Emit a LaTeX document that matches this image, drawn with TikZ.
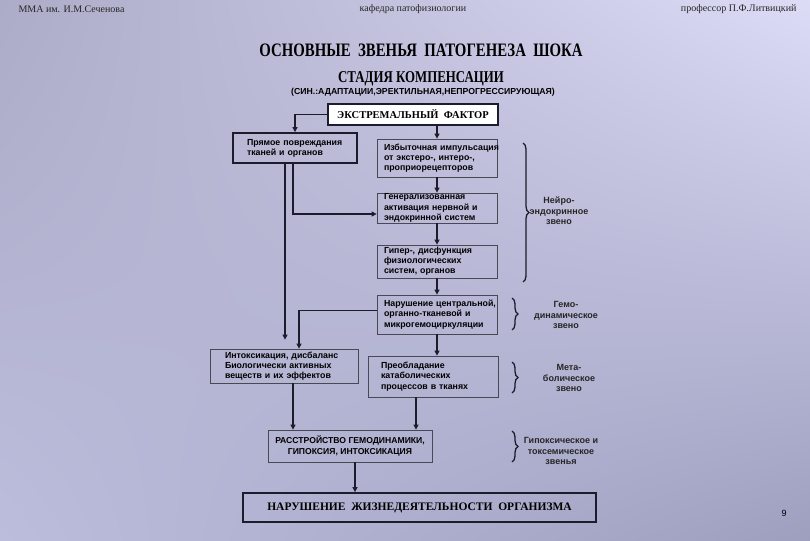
\documentclass[tikz,border=0pt]{standalone}
\usepackage{fontspec}
\setmainfont{Liberation Serif}
\newfontfamily\arialfont{Liberation Sans}
\newfontfamily\narrowfont[FakeStretch=0.78]{Liberation Serif}
\usetikzlibrary{arrows.meta,decorations.pathreplacing,positioning,shadings}
\definecolor{bgUL}{HTML}{ACACC8}
\definecolor{bgUR}{HTML}{DCDCF7}
\definecolor{bgLL}{HTML}{BCBCDC}
\definecolor{bgLR}{HTML}{9E9EBF}
\definecolor{lineDark}{HTML}{1C1C2C}

\begin{document}
\begin{tikzpicture}[
  x=1pt, y=-1pt,
  blk/.style={
    rectangle, draw=lineDark!80, line width=0.8pt,
    inner sep=0pt, align=left, text=black,
    font=\arialfont\bfseries\fontsize{8.8}{10.2}\selectfont
  },
  mainblk/.style={
    blk, draw=lineDark, line width=1.8pt
  },
  hdr/.style={font=\fontsize{10}{11}\selectfont, text=black!85},
  arr/.style={-{Triangle[length=5pt,width=5pt]}, line width=1.1pt, lineDark},
  brc/.style={decorate, decoration={brace, amplitude=6pt}, line width=1.3pt, lineDark},
  zlabel/.style={
    font=\arialfont\bfseries\fontsize{9}{10.5}\selectfont,
    align=center, text=black!85
  },
]

% === Background ===
\shade[upper left=bgUL, upper right=bgUR, lower left=bgLL, lower right=bgLR]
  (0,0) rectangle (810,540);
\useasboundingbox (0,0) rectangle (810,540);

% === Header and titles ===
\node[hdr, anchor=west] (inst) at (15,9) {ММА им. И.М.Сеченова};
\node[hdr] (dept) at (413,9) {кафедра патофизиологии};
\node[hdr, anchor=east] (prof) at (800,9) {профессор П.Ф.Литвицкий};

\node[font=\narrowfont\bfseries\fontsize{19}{19}\selectfont] (title) at (421,50)
  {ОСНОВНЫЕ\ \ ЗВЕНЬЯ\ \ ПАТОГЕНЕЗА\ \ ШОКА};
\node[font=\narrowfont\bfseries\fontsize{16.5}{16.5}\selectfont] (stage) at (421,79)
  {СТАДИЯ КОМПЕНСАЦИИ};
\node[font=\arialfont\bfseries\fontsize{8.7}{9}\selectfont] (syn) at (423,92)
  {(СИН.:АДАПТАЦИИ,ЭРЕКТИЛЬНАЯ,НЕПРОГРЕССИРУЮЩАЯ)};

% === Blocks ===
\node[mainblk, fill=white, minimum width=170pt, minimum height=21pt,
  font=\bfseries\fontsize{10.5}{12}\selectfont] (extreme) at (413,114.5)
  {ЭКСТРЕМАЛЬНЫЙ\ \ ФАКТОР};

\node[mainblk, minimum width=124pt, minimum height=30pt, text width=96pt] (direct) at (295,148)
  {Прямое~повреждания\\тканей и органов};

\node[blk, minimum width=120pt, minimum height=38pt, text width=106pt] (impulse) at (437,158)
  {Избыточная~импульсация\\от экстеро-, интеро-,\\проприорецепторов};
\node[blk, minimum width=120pt, minimum height=30pt, text width=106pt] (activ) at (437,208)
  {Генерализованная\\активация нервной и\\эндокринной систем};
\node[blk, minimum width=120pt, minimum height=33pt, text width=106pt] (hyper) at (437,261.5)
  {Гипер-, дисфункция\\физиологических\\систем, органов};
\node[blk, minimum width=120pt, minimum height=39pt, text width=106pt] (circul) at (437,314.5)
  {Нарушение~центральной,\\органно-тканевой и\\микрогемоциркуляции};

\node[blk, minimum width=148pt, minimum height=34pt, text width=118pt] (intox) at (284,366)
  {Интоксикация,~дисбаланс\\Биологически активных\\веществ и их эффектов};
\node[blk, minimum width=130pt, minimum height=41pt, text width=104pt] (catab) at (433,376.5)
  {Преобладание\\катаболических\\процессов в тканях};

\node[blk, minimum width=164pt, minimum height=32pt, align=center,
  font=\arialfont\bfseries\fontsize{8.6}{11}\selectfont] (disorder) at (350,446)
  {РАССТРОЙСТВО ГЕМОДИНАМИКИ,\\ГИПОКСИЯ, ИНТОКСИКАЦИЯ};

\node[mainblk, minimum width=353pt, minimum height=29pt,
  font=\bfseries\fontsize{11.5}{13}\selectfont] (final) at (419.5,507.5)
  {НАРУШЕНИЕ\ \ ЖИЗНЕДЕЯТЕЛЬНОСТИ\ \ ОРГАНИЗМА};

% === Arrow feet ===
\coordinate (directGen) at ([xshift=-2pt]direct.south);
\coordinate (directOut) at ([xshift=-10pt]direct.south);
\coordinate (intoxTip) at ([yshift=9pt]intox.north);
\coordinate (intoxOut) at ([xshift=9pt]intox.south);
\coordinate (catabOut) at ([xshift=-17pt]catab.south);
\coordinate (disOut) at ([xshift=5pt]disorder.south);

% === Arrows ===
\draw[arr] (extreme.west) -| (direct.north);
\draw[arr] (extreme.south -| impulse.north) -- (impulse.north);
\draw[arr] (impulse) -- (activ);
\draw[arr] (activ) -- (hyper);
\draw[arr] (hyper) -- (circul);
\draw[arr] (directGen) |- ([yshift=-6pt]activ.west);
\draw[arr] (directOut) -- (directOut |- intoxTip);
\draw[arr] ([yshift=4pt]circul.west) -| ([xshift=15pt]intox.north);
\draw[arr] (circul.south) -- (circul.south |- catab.north);
\draw[arr] (intoxOut) -- (intoxOut |- disorder.north);
\draw[arr] (catabOut) -- (catabOut |- disorder.north);
\draw[arr] (disOut) -- (disOut |- final.north);

% === Braces ===
\draw[brc] (523,143) -- (523,282);
\draw[brc] (512,298) -- (512,330);
\draw[brc] (512,362) -- (512,393);
\draw[brc] (512,431) -- (512,462);

% === Link labels (cut at the text frame) ===
\begin{scope}
  \clip (0,0) rectangle (598,540);
  \node[zlabel] (neuro) at (559,211) {Нейро-\\эндокринное\\звено};
  \node[zlabel] (hemo) at (566,315) {Гемо-\\динамическое\\звено};
  \node[zlabel] (meta) at (569,378) {Мета-\\болическое\\звено};
  \node[zlabel] (hypox) at (561,451) {Гипоксическое и\\токсемическое\\звенья};
\end{scope}

\node[font=\arialfont\fontsize{9}{9}\selectfont] (page) at (784,513) {9};

\end{tikzpicture}
\end{document}
